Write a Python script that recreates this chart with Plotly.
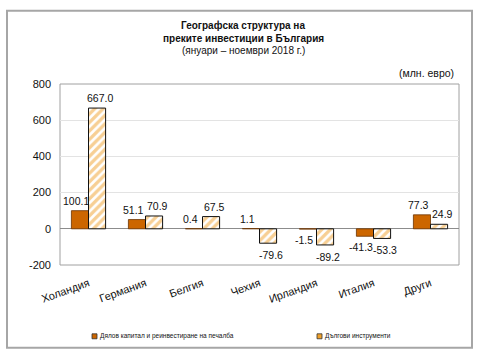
import plotly.graph_objects as go

categories = ["Холандия", "Германия", "Белгия", "Чехия", "Ирландия", "Италия", "Други"]
equity = [100.1, 51.1, 0.4, 1.1, -1.5, -41.3, 77.3]
debt = [667.0, 70.9, 67.5, -79.6, -89.2, -53.3, 24.9]
series_names = ["Дялов капитал и реинвестиране на печалба", "Дългови инструменти"]
y_ticks = [-200, 0, 200, 400, 600, 800]

W, H = 479, 362
L, R, T, B = 60, 459, 83.5, 265

def px(x):
    return (x - L) / (R - L)

def py(y):
    return (B - y) / (B - T)

FONT = "Liberation Sans, Arial, sans-serif"
BROWN = "#CC6600"
GOLD = "#EFA02A"

fig = go.Figure()
fig.add_trace(go.Bar(
    x=categories, y=equity, name=series_names[0], offsetgroup="a",
    marker=dict(color=BROWN, line=dict(color="#6B3300", width=0.8)),
    showlegend=False,
))
fig.add_trace(go.Bar(
    x=categories, y=debt, name=series_names[1], offsetgroup="b",
    marker=dict(color="white",
                pattern=dict(shape="/", fgcolor=GOLD, bgcolor="white", size=6, solidity=0.55),
                line=dict(color="#111", width=1)),
    showlegend=False,
))

shapes = [
    dict(type="rect", xref="paper", yref="paper",
         x0=px(7), x1=px(472), y0=py(348), y1=py(10),
         line=dict(color="#A6A6A6", width=2), fillcolor="rgba(0,0,0,0)", layer="below"),
    dict(type="rect", xref="paper", yref="paper",
         x0=0, x1=1, y0=0, y1=1,
         line=dict(color="#A0A0A0", width=1), fillcolor="rgba(0,0,0,0)", layer="below"),
    dict(type="rect", xref="paper", yref="paper",
         x0=px(92), x1=px(97), y0=py(339), y1=py(334),
         line=dict(color="#333", width=0.8), fillcolor=BROWN),
    dict(type="rect", xref="paper", yref="paper",
         x0=px(317), x1=px(322), y0=py(339), y1=py(334),
         line=dict(color="#333", width=0.8), fillcolor=GOLD),
]

annotations = [
    dict(text="<b>Географска структура на</b>", x=px(243), y=py(25), xref="paper", yref="paper",
         showarrow=False, font=dict(size=10, family=FONT, color="#111"), xanchor="center", yanchor="middle"),
    dict(text="<b>преките инвестиции в България</b>", x=px(243), y=py(37.5), xref="paper", yref="paper",
         showarrow=False, font=dict(size=10, family=FONT, color="#111"), xanchor="center", yanchor="middle"),
    dict(text="(януари – ноември 2018 г.)", x=px(243), y=py(50), xref="paper", yref="paper",
         showarrow=False, font=dict(size=10, family=FONT, color="#111"), xanchor="center", yanchor="middle"),
    dict(text="(млн. евро)", x=px(456), y=py(72), xref="paper", yref="paper",
         showarrow=False, font=dict(size=10.5, family=FONT, color="#111"), xanchor="right", yanchor="middle"),
    dict(text=series_names[0], x=px(97.5), y=py(336.5), xref="paper", yref="paper",
         showarrow=False, font=dict(size=6.5, family=FONT, color="#111"), xanchor="left", yanchor="middle"),
    dict(text=series_names[1], x=px(322.5), y=py(336.5), xref="paper", yref="paper",
         showarrow=False, font=dict(size=6.5, family=FONT, color="#111"), xanchor="left", yanchor="middle"),
]

# data labels, placed in data coordinates on the category axis
for i, (c, v) in enumerate(zip(categories, equity)):
    annotations.append(dict(
        x=i, y=v, xref="x", yref="y", text=f"{v:.1f}", showarrow=False,
        xshift=-8.5 - 4, yshift=(10 if v >= 0 else -11), xanchor="center", yanchor="middle",
        font=dict(size=10.5, family=FONT, color="#111")))
for i, (c, v) in enumerate(zip(categories, debt)):
    annotations.append(dict(
        x=i, y=v, xref="x", yref="y", text=f"{v:.1f}", showarrow=False,
        xshift=8.5 + 3, yshift=(10 if v >= 0 else -12), xanchor="center", yanchor="middle",
        font=dict(size=10.5, family=FONT, color="#111")))

fig.update_layout(
    width=W, height=H,
    margin=dict(l=L, r=W - R, t=T, b=H - B, pad=0),
    paper_bgcolor="white", plot_bgcolor="white",
    barmode="group", bargap=0.4, bargroupgap=0,
    font=dict(family=FONT, size=11, color="#111"),
    shapes=shapes, annotations=annotations,
    xaxis=dict(type="category", tickangle=-20, tickfont=dict(size=11, family=FONT), showgrid=False,
               showline=False, ticks="", ticklabelstandoff=9),
    yaxis=dict(range=[-200, 800], tickvals=y_ticks, ticktext=[str(v) for v in y_ticks],
               tickfont=dict(size=11, family=FONT), showgrid=True, gridcolor="#E3E3E3", gridwidth=1,
               zeroline=True, zerolinecolor="#8C8C8C", zerolinewidth=1,
               showline=False, ticks="", ticklabelstandoff=8),
)

fig.write_html("out.html", config={"displayModeBar": False},
               post_script="document.body.style.margin='0';document.body.style.padding='0';")
